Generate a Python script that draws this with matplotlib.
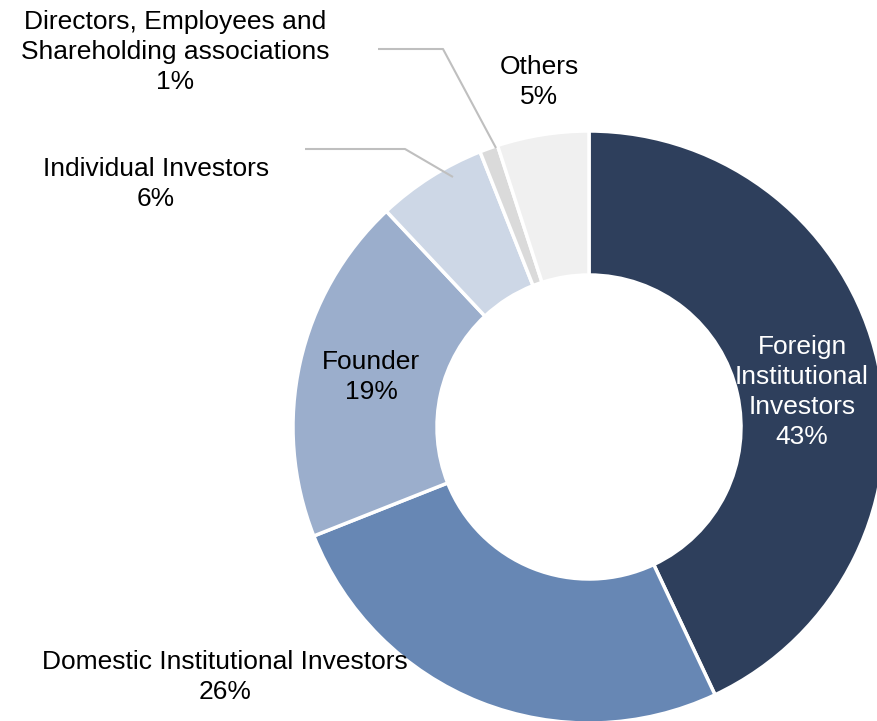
import matplotlib.pyplot as plt

plt.rcParams['font.family'] = ['Liberation Sans', 'DejaVu Sans']

# shareholder breakdown, clockwise from 12 o'clock
names = ['Foreign\nInstitutional\nInvestors', 'Domestic Institutional Investors',
         'Founder', 'Individual Investors',
         'Directors, Employees and\nShareholding associations', 'Others']
shares = [43, 26, 19, 6, 1, 5]
colors = ['#2E3F5C', '#6787B4', '#9BAECC', '#CDD7E6', '#DADADA', '#F0F0F0']
text_colors = ['white', 'black', 'black', 'black', 'black', 'black']

# label anchor points (pixels, y down)
label_xy = [(802, 392), (225, 677), (371, 377), (156, 184), (175, 52), (539, 82)]

fig = plt.figure(figsize=(8.77, 7.21), dpi=100)
ax = fig.add_axes([0, 0, 1, 1])

# y axis is flipped below, so counterclock in data reads clockwise on screen
cx, cy, R = 589, 427, 296
ax.pie(shares, colors=colors, startangle=-90, counterclock=True,
       center=(cx, cy), radius=R,
       wedgeprops=dict(width=R - 152, edgecolor='white', linewidth=2.5))

for name, val, (x, y), tc in zip(names, shares, label_xy, text_colors):
    ax.text(x, y, '%s\n%d%%' % (name, val), ha='center', va='center',
            fontsize=19, color=tc, linespacing=1.32)

# leader lines for the thin slices
ax.plot([378, 443, 496], [49, 49, 148], color='#BFBFBF', lw=1.5, solid_capstyle='butt')
ax.plot([305, 405, 453], [149, 149, 177], color='#BFBFBF', lw=1.5, solid_capstyle='butt')

ax.set_xlim(0, 877)
ax.set_ylim(721, 0)
ax.set_aspect('equal')
ax.axis('off')

fig.savefig('out.png', dpi=100, facecolor='white')
